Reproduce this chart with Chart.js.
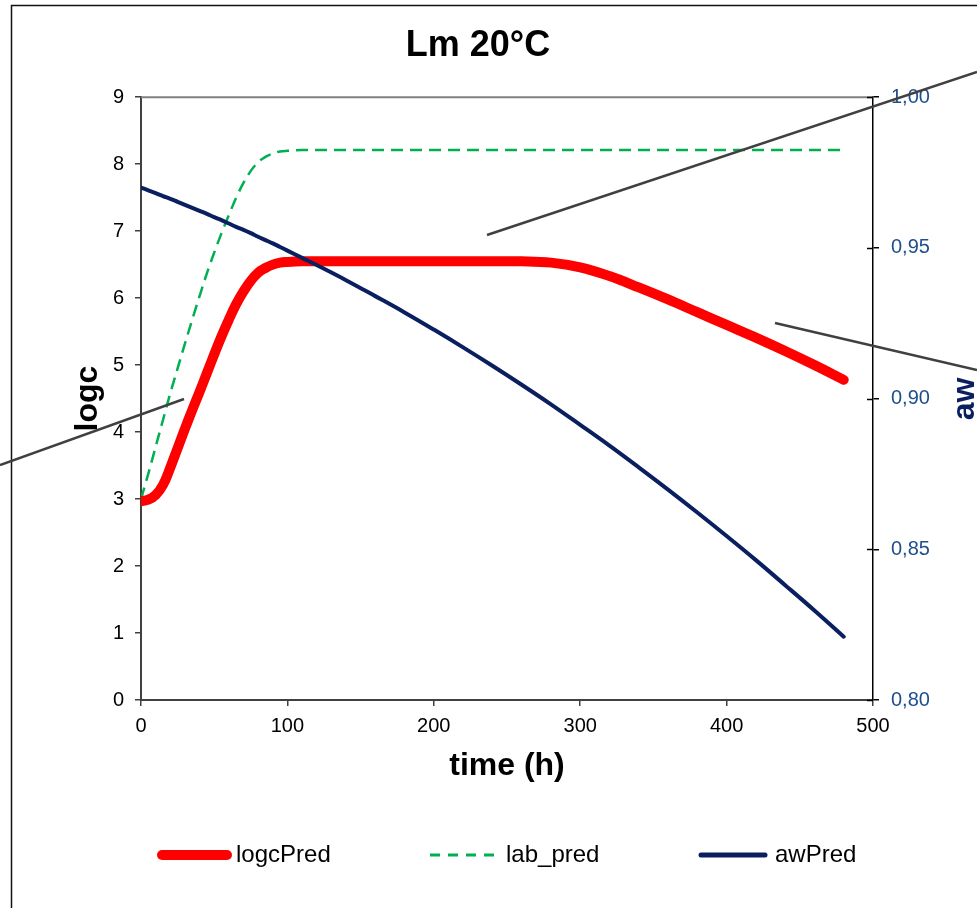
<!DOCTYPE html>
<html>
<head>
<meta charset="utf-8">
<script src="https://cdn.jsdelivr.net/npm/chart.js@4.4.0/dist/chart.umd.min.js"></script>
<style>
  html, body { margin: 0; padding: 0; background: #fff; }
  #wrap { position: relative; width: 977px; height: 908px; }
</style>
</head>
<body>
<div id="wrap"><canvas id="chart" width="977" height="908"></canvas></div>
<script>
const FONT = "'Liberation Sans', Arial, sans-serif";
Chart.defaults.font.family = FONT;
Chart.defaults.color = "#000";

// time in hours, shared by all three series
const timeH = [0, 5, 10, 15, 20, 25, 30, 35, 40, 45, 50, 55, 60, 65, 70, 75, 80, 85, 90, 95, 100,
  110, 120, 140, 160, 180, 200, 220, 240, 260, 280, 300, 320, 340, 360, 380, 400, 420, 440, 460, 480];

const logcPred = [2.97, 2.99, 3.06, 3.21, 3.47, 3.76, 4.05, 4.33, 4.60, 4.88, 5.16, 5.43, 5.68, 5.91, 6.10, 6.26, 6.38, 6.45, 6.50, 6.53, 6.54,
  6.55, 6.55, 6.55, 6.55, 6.55, 6.55, 6.55, 6.55, 6.55, 6.53, 6.46, 6.33, 6.16, 5.98, 5.79, 5.60, 5.41, 5.21, 5.00, 4.78];

const labPred = [3.00, 3.38, 3.78, 4.18, 4.58, 4.95, 5.32, 5.68, 6.03, 6.37, 6.68, 6.97, 7.24, 7.50, 7.72, 7.90, 8.03, 8.11, 8.16, 8.19, 8.20,
  8.21, 8.21, 8.21, 8.21, 8.21, 8.21, 8.21, 8.21, 8.21, 8.21, 8.21, 8.21, 8.21, 8.21, 8.21, 8.21, 8.21, 8.21, 8.21, 8.21];

const awPred = [0.9700, 0.9691, 0.9682, 0.9672, 0.9663, 0.9653, 0.9643, 0.9633, 0.9623, 0.9613, 0.9602, 0.9592, 0.9581, 0.9570, 0.9560, 0.9549, 0.9537, 0.9526, 0.9515, 0.9503, 0.9491,
  0.9467, 0.9443, 0.9393, 0.9340, 0.9286, 0.9229, 0.9170, 0.9109, 0.9046, 0.8981, 0.8913, 0.8844, 0.8772, 0.8698, 0.8622, 0.8544, 0.8464, 0.8381, 0.8297, 0.8210];

const timeTicks = [0, 100, 200, 300, 400, 500];
const logcTicks = [0, 1, 2, 3, 4, 5, 6, 7, 8, 9];
const awTicks = [0.80, 0.85, 0.90, 0.95, 1.00];
const seriesNames = ["logcPred", "lab_pred", "awPred"];

const toPts = (ys) => timeH.map((t, i) => ({ x: t, y: ys[i] }));

// legend layout (pixels) - drawn by hand so the wide spacing matches
const legendY = 855;
const legendSlots = [
  { x0: 162, x1: 227, tx: 236, width: 10, dash: [] },
  { x0: 430, x1: 494, tx: 506, width: 3, dash: [10, 8] },
  { x0: 701, x1: 765, tx: 775, width: 5, dash: [] },
];

// the stray grey leader lines that sit on the original picture
const strayLines = [
  [0, 465, 184, 399],
  [487, 235, 977, 72],
  [775, 323, 977, 370],
];

const extras = {
  id: "extras",
  beforeDraw(chart) {
    const ctx = chart.ctx;
    ctx.save();
    ctx.strokeStyle = "#111";
    ctx.lineWidth = 1.5;
    ctx.beginPath();
    ctx.moveTo(11.5, 908);
    ctx.lineTo(11.5, 5.5);
    ctx.lineTo(977, 5.5);
    ctx.stroke();
    ctx.restore();
  },
  beforeDatasetsDraw(chart) {
    const { ctx, chartArea } = chart;
    ctx.save();
    // grey top edge of plot
    ctx.strokeStyle = "#808080";
    ctx.lineWidth = 2;
    ctx.beginPath();
    ctx.moveTo(chartArea.left, chartArea.top);
    ctx.lineTo(chartArea.right, chartArea.top);
    ctx.stroke();
    // right axis ticks cross the axis
    const y2 = chart.scales.y2;
    ctx.strokeStyle = "#000";
    ctx.lineWidth = 1.5;
    y2.ticks.forEach((t) => {
      const py = Math.round(y2.getPixelForValue(t.value)) + 0.5;
      ctx.beginPath();
      ctx.moveTo(chartArea.right - 6, py);
      ctx.lineTo(chartArea.right, py);
      ctx.stroke();
    });
    ctx.restore();
  },
  afterDraw(chart) {
    const ctx = chart.ctx;
    ctx.save();
    ctx.strokeStyle = "#404040";
    ctx.lineWidth = 2.5;
    strayLines.forEach(([x0, y0, x1, y1]) => {
      ctx.beginPath();
      ctx.moveTo(x0, y0);
      ctx.lineTo(x1, y1);
      ctx.stroke();
    });

    // secondary axis title, rotated like the left one
    ctx.save();
    ctx.translate(974, 399);
    ctx.rotate(-Math.PI / 2);
    ctx.fillStyle = "#0A1F5F";
    ctx.font = "bold 32px " + FONT;
    ctx.textAlign = "center";
    ctx.textBaseline = "alphabetic";
    ctx.fillText("aw", 0, 0);
    ctx.restore();

    // legend
    chart.data.datasets.forEach((ds, i) => {
      const s = legendSlots[i];
      ctx.strokeStyle = ds.borderColor;
      ctx.lineWidth = s.width;
      ctx.lineCap = s.dash.length ? "butt" : "round";
      ctx.setLineDash(s.dash);
      ctx.beginPath();
      ctx.moveTo(s.x0, legendY);
      ctx.lineTo(s.x1, legendY);
      ctx.stroke();
      ctx.setLineDash([]);
      ctx.fillStyle = "#000";
      ctx.font = "24px " + FONT;
      ctx.textAlign = "left";
      ctx.textBaseline = "middle";
      ctx.fillText(ds.label, s.tx, legendY);
    });
    ctx.restore();
  },
};

new Chart(document.getElementById("chart"), {
  type: "line",
  data: {
    datasets: [
      {
        label: seriesNames[0],
        data: toPts(logcPred),
        yAxisID: "y",
        borderColor: "#FF0000",
        borderWidth: 10,
        borderCapStyle: "round",
        borderJoinStyle: "round",
        pointRadius: 0,
        tension: 0.4,
        order: 1,
      },
      {
        label: seriesNames[1],
        data: toPts(labPred),
        yAxisID: "y",
        borderColor: "#00B050",
        borderWidth: 2.5,
        borderDash: [12, 7],
        pointRadius: 0,
        cubicInterpolationMode: "monotone",
        order: 2,
      },
      {
        label: seriesNames[2],
        data: toPts(awPred),
        yAxisID: "y2",
        borderColor: "#0A1F5F",
        borderWidth: 4,
        borderCapStyle: "round",
        pointRadius: 0,
        tension: 0.4,
        order: 0,
      },
    ],
  },
  options: {
    responsive: false,
    animation: false,
    devicePixelRatio: 1,
    layout: { padding: { left: 11, right: 32, top: 0, bottom: 108 } },
    plugins: {
      legend: { display: false },
      tooltip: { enabled: false },
      title: {
        display: true,
        text: "Lm 20°C",
        color: "#000",
        font: { size: 36, weight: "bold" },
        padding: { top: 24, bottom: 30 },
      },
    },
    scales: {
      x: {
        type: "linear",
        min: 0,
        max: 500,
        afterBuildTicks: (s) => { s.ticks = timeTicks.map((v) => ({ value: v })); },
        afterFit: (s) => { s.height = 100; },
        grid: { drawOnChartArea: false, tickLength: 6, color: "#404040", lineWidth: 1.5 },
        border: { color: "#404040", width: 2 },
        ticks: { font: { size: 20 }, color: "#000", padding: 8, maxRotation: 0 },
        title: {
          display: true,
          text: "time (h)",
          color: "#000",
          font: { size: 32, weight: "bold" },
          padding: { top: 0, bottom: 15 },
        },
      },
      y: {
        position: "left",
        min: 0,
        max: 9,
        afterBuildTicks: (s) => { s.ticks = logcTicks.map((v) => ({ value: v })); },
        afterFit: (s) => { s.width = 130; },
        grid: { drawOnChartArea: false, tickLength: 6, color: "#404040", lineWidth: 1.5 },
        border: { color: "#404040", width: 2 },
        ticks: { font: { size: 20 }, color: "#000", padding: 11 },
        title: {
          display: true,
          text: "logc",
          color: "#000",
          font: { size: 32, weight: "bold" },
          padding: { top: 58, bottom: 0 },
        },
      },
      y2: {
        position: "right",
        min: 0.8,
        max: 1.0,
        afterBuildTicks: (s) => { s.ticks = awTicks.map((v) => ({ value: v })); },
        afterFit: (s) => { s.width = 72; },
        grid: { drawOnChartArea: false, tickLength: 6, color: "#000", lineWidth: 1.5 },
        border: { color: "#000", width: 1.5 },
        ticks: {
          font: { size: 20 },
          color: "#1F4E8C",
          padding: 12,
          callback: (v) => v.toFixed(2).replace(".", ","),
        },
        title: { display: false },
      },
    },
  },
  plugins: [extras],
});
</script>
</body>
</html>
